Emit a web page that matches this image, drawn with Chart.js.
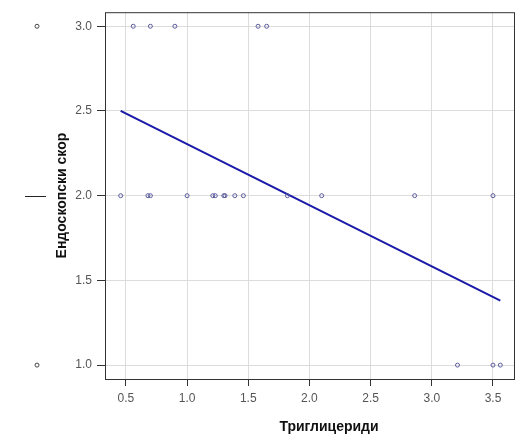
<!DOCTYPE html>
<html>
<head>
<meta charset="utf-8">
<script src="https://cdn.jsdelivr.net/npm/chart.js@4.4.1/dist/chart.umd.min.js"></script>
<style>
html,body{margin:0;padding:0;background:#fff;}
#wrap{width:518px;height:437px;position:relative;}
</style>
</head>
<body>
<div id="wrap"><canvas id="c" width="518" height="437"></canvas></div>
<script>
// ---- data ----
const triglyceridesX = [0.56, 0.70, 0.90, 1.58, 1.65,
  0.457, 0.68, 0.70, 1.00, 1.21, 1.23, 1.30, 1.31, 1.39, 1.46, 1.82, 2.10, 2.86, 3.50,
  3.21, 3.50, 3.56];
const endoScoreY = [3, 3, 3, 3, 3,
  2, 2, 2, 2, 2, 2, 2, 2, 2, 2, 2, 2, 2, 2,
  1, 1, 1];
const fitLineX = [0.457, 3.56];
const fitLineY = [2.50, 1.38];
const xTicks = [0.5, 1.0, 1.5, 2.0, 2.5, 3.0, 3.5];
const yTicks = [1.0, 1.5, 2.0, 2.5, 3.0];
const marginalOutliers = [3.0, 1.0];
const marginalMedian = [2.0];
const xTitle = 'Триглицериди';
const yTitle = 'Ендоскопски скор';

const points = triglyceridesX.map((x, i) => ({x: x, y: endoScoreY[i]}));
const fitLine = fitLineX.map((x, i) => ({x: x, y: fitLineY[i]}));

const framePlugin = {
  id: 'frame',
  afterDatasetsDraw(chart) {
    const {ctx, chartArea: a, scales} = chart;
    ctx.save();
    ctx.strokeStyle = '#333';
    ctx.lineWidth = 1;
    ctx.strokeRect(a.left + 0.5, a.top + 0.5, a.right - a.left - 1, a.bottom - a.top);
    // marginal boxplot on the left
    const y = scales.y;
    const mx = 37;
    ctx.strokeStyle = '#222';
    ctx.lineWidth = 1;
    marginalMedian.forEach(v => {
      const py = Math.round(y.getPixelForValue(v)) + 0.5;
      ctx.beginPath(); ctx.moveTo(25, py); ctx.lineTo(46, py); ctx.stroke();
    });
    ctx.strokeStyle = '#444';
    marginalOutliers.forEach(v => {
      const py = y.getPixelForValue(v);
      ctx.beginPath(); ctx.arc(mx, py, 2, 0, Math.PI * 2); ctx.stroke();
    });
    // x title
    ctx.fillStyle = '#111';
    ctx.font = 'bold 14px "Liberation Sans", Arial, sans-serif';
    ctx.textAlign = 'center';
    ctx.textBaseline = 'middle';
    ctx.fillText(xTitle, 329, 427);
    ctx.restore();
  }
};

new Chart(document.getElementById('c'), {
  type: 'scatter',
  data: {
    datasets: [
      {
        type: 'line',
        label: 'fit',
        data: fitLine,
        borderColor: '#1a1aa8',
        borderWidth: 2,
        pointRadius: 0,
        fill: false,
        order: 1
      },
      {
        label: 'points',
        data: points,
        pointRadius: 2,
        pointBorderWidth: 1,
        borderColor: '#5b5b9e',
        backgroundColor: 'rgba(255,255,255,0)',
        pointHoverRadius: 2,
        order: 0
      }
    ]
  },
  options: {
    responsive: false,
    animation: false,
    devicePixelRatio: 1,
    layout: {padding: {left: 0, right: 2, top: 8, bottom: 0}},
    plugins: {legend: {display: false}, tooltip: {enabled: false}},
    scales: {
      x: {
        type: 'linear',
        min: 0.329, max: 3.68,
        afterBuildTicks: s => { s.ticks = xTicks.map(v => ({value: v})); },
        afterFit: s => { s.height = 58; },
        border: {display: false},
        grid: {color: '#dcdcdc', tickColor: '#333', tickLength: 7, lineWidth: 1},
        ticks: {
          color: '#555', padding: 5,
          font: {family: '"Liberation Sans", Arial, sans-serif', size: 12},
          callback: v => Number(v).toFixed(1),
          maxRotation: 0
        },
        title: {display: false}
      },
      y: {
        type: 'linear',
        min: 0.918, max: 3.083,
        afterBuildTicks: s => { s.ticks = yTicks.map(v => ({value: v})); },
        afterFit: s => { s.width = 105; },
        border: {display: false},
        grid: {color: '#dcdcdc', tickColor: '#333', tickLength: 8, lineWidth: 1},
        ticks: {
          color: '#555', padding: 5,
          font: {family: '"Liberation Sans", Arial, sans-serif', size: 12},
          callback: v => Number(v).toFixed(1)
        },
        title: {
          display: true,
          text: yTitle,
          color: '#111',
          font: {family: '"Liberation Sans", Arial, sans-serif', size: 14, weight: 'bold'},
          padding: {top: 54, bottom: 0}
        }
      }
    }
  },
  plugins: [framePlugin]
});
</script>
</body>
</html>
